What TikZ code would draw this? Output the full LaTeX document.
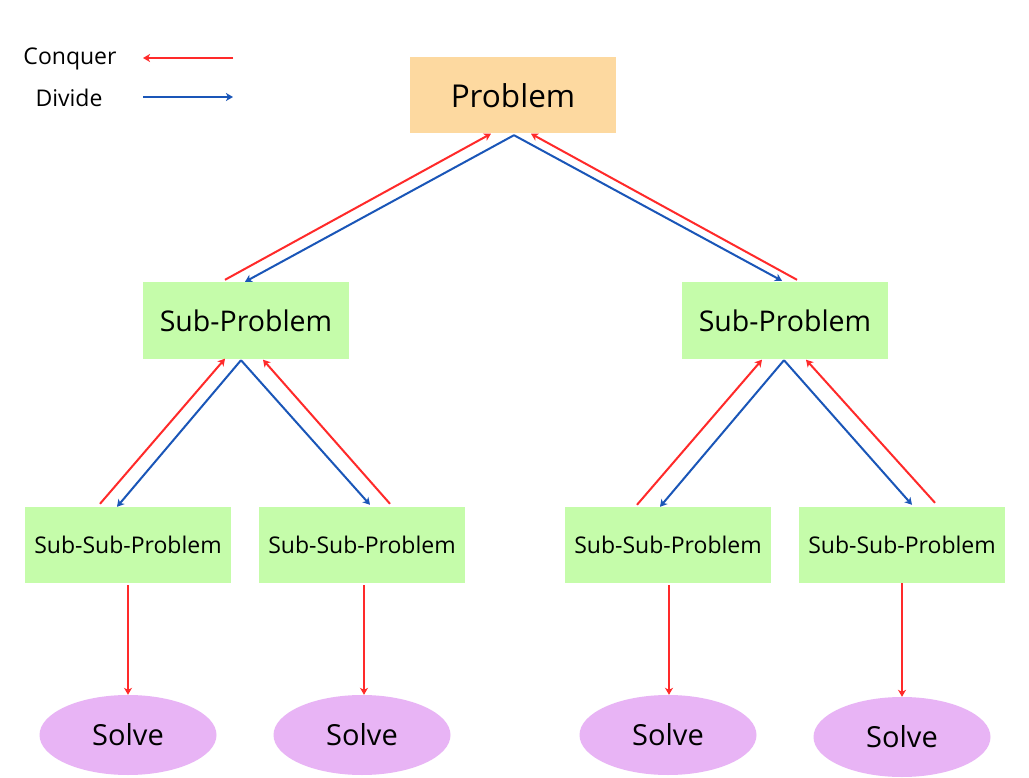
\documentclass[tikz,border=0pt]{standalone}
\usepackage{fontspec}
\setmainfont{Open Sans}
\usetikzlibrary{arrows.meta,shapes.geometric,calc}
\definecolor{peach}{HTML}{FDD9A0}
\definecolor{lgreen}{HTML}{C5FCAA}
\definecolor{lpurple}{HTML}{E8B4F5}
\definecolor{cred}{HTML}{FF2A2A}
\definecolor{cblue}{HTML}{1A56B8}
\tikzset{
  x=1pt, y=-1pt,
  box/.style={rectangle, inner sep=0pt, minimum width=206pt, minimum height=76pt, text=black},
  topbox/.style={box, fill=peach, font=\fontsize{31.5}{36}\selectfont},
  subbox/.style={box, fill=lgreen, font=\fontsize{28.5}{33}\selectfont},
  ssbox/.style={box, fill=lgreen, font=\fontsize{23}{27}\selectfont},
  solvenode/.style={ellipse, fill=lpurple, inner sep=0pt, minimum width=177pt, minimum height=80pt, font=\fontsize{29}{33}\selectfont},
  legtext/.style={font=\fontsize{23}{26}\selectfont, inner sep=0pt},
  tip/.style={-{Stealth[length=7pt,width=8pt,inset=2pt]}},
  conq/.style={tip, draw=cred, fill=cred, line width=2pt},
  divi/.style={tip, draw=cblue, fill=cblue, line width=2pt},
}
\begin{document}
\begin{tikzpicture}
\useasboundingbox (0,0) rectangle (1029,778);
\fill[white] (0,0) rectangle (1029,778);
% legend
\node[legtext] (lc) at (70,59) {Conquer};
\node[legtext] (ld) at (69,98) {Divide};
\coordinate (lcA) at (233,58);
\coordinate (lcB) at (143,58);
\coordinate (ldA) at (143,97);
\coordinate (ldB) at (233,97);
\draw[conq] (lcA) -- (lcB);
\draw[divi] (ldA) -- (ldB);
% nodes
\node[topbox] (P) at (513,95.5) {Problem};
\node[subbox] (S1) at (246,320.5) {Sub-Problem};
\node[subbox] (S2) at (785,320.5) {Sub-Problem};
\node[ssbox] (A) at (128,545) {Sub-Sub-Problem};
\node[ssbox] (B) at (362,545) {Sub-Sub-Problem};
\node[ssbox] (C) at (668,545) {Sub-Sub-Problem};
\node[ssbox] (D) at (902,545) {Sub-Sub-Problem};
\node[solvenode] (E1) at (128,735) {Solve};
\node[solvenode] (E2) at (362,735) {Solve};
\node[solvenode] (E3) at (668,735) {Solve};
\node[solvenode] (E4) at (902,737) {Solve};
% Problem <-> sub-problems
\draw[divi] ($(P.south)+(1,1.5)$) -- ($(S1.north)+(-1,-0.5)$);
\draw[conq] ($(S1.north)+(-21,-2.5)$) -- ($(P.south)+(-22,0)$);
\draw[divi] ($(P.south)+(1,1.5)$) -- ($(S2.north)+(-3,-1.5)$);
\draw[conq] ($(S2.north)+(12,-2.5)$) -- ($(P.south)+(18,0)$);
% left sub-problem
\draw[divi] ($(S1.south)+(-5,1.5)$) -- ($(A.north)+(-11,0)$);
\draw[conq] ($(A.north)+(-28,-3)$) -- ($(S1.south)+(-21,0)$);
\draw[divi] ($(S1.south)+(-5,1.5)$) -- ($(B.north)+(8,-2)$);
\draw[conq] ($(B.north)+(28,-3)$) -- ($(S1.south)+(17,1)$);
% right sub-problem
\draw[divi] ($(S2.south)+(-1,1.5)$) -- ($(C.north)+(-8,0)$);
\draw[conq] ($(C.north)+(-31,-2)$) -- ($(S2.south)+(-23,1)$);
\draw[divi] ($(S2.south)+(-1,1.5)$) -- ($(D.north)+(10,-2)$);
\draw[conq] ($(D.north)+(33,-4)$) -- ($(S2.south)+(21,1)$);
% to solve
\draw[conq] ($(A.south)+(0,2)$) -- (E1.north);
\draw[conq] ($(B.south)+(2,2)$) -- ($(E2.north)+(2,0)$);
\draw[conq] ($(C.south)+(1,2)$) -- ($(E3.north)+(1,0)$);
\draw[conq] ($(D.south)+(0,0)$) -- (E4.north);
\end{tikzpicture}
\end{document}
